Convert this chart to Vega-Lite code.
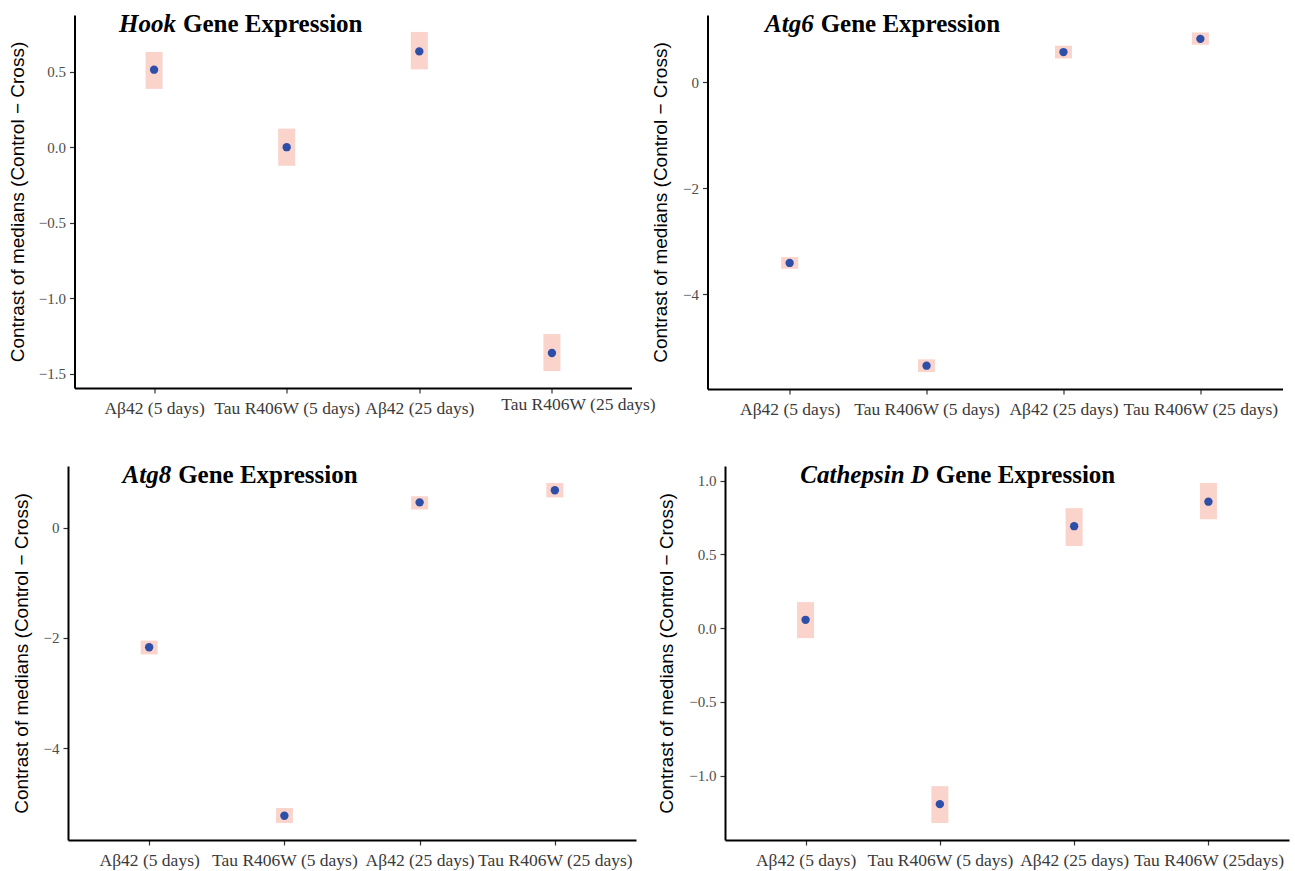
{
  "$schema": "https://vega.github.io/schema/vega-lite/v6.json",
  "padding": {"left": 8, "top": 11, "right": 5, "bottom": 5},
  "background": "white",
  "config": {
    "view": {"stroke": null},
    "axis": {
      "grid": false,
      "domainColor": "#000000",
      "domainWidth": 2,
      "tickColor": "#333333",
      "tickSize": 5,
      "tickWidth": 1.2,
      "labelFont": "Liberation Serif",
      "labelColor": "#4d4d4d",
      "titleFont": "Liberation Sans",
      "titleFontSize": 19,
      "titleFontWeight": "normal",
      "titleColor": "#000000"
    },
    "axisY": {"labelFontSize": 15, "labelPadding": 4},
    "axisX": {"labelFontSize": 17.5, "labelPadding": 6, "labelAngle": 0, "labelOverlap": false, "labelColor": "#3a3a3a"}
  },
  "datasets": {
    "d": [
      {"gene": "Hook", "group": "Aβ42 (5 days)", "median": 0.513, "lo": 0.386, "hi": 0.630},
      {"gene": "Hook", "group": "Tau R406W (5 days)", "median": 0.0, "lo": -0.123, "hi": 0.123},
      {"gene": "Hook", "group": "Aβ42 (25 days)", "median": 0.634, "lo": 0.515, "hi": 0.763},
      {"gene": "Hook", "group": "Tau R406W (25 days)", "median": -1.362, "lo": -1.482, "hi": -1.237},
      {"gene": "Atg6", "group": "Aβ42 (5 days)", "median": -3.41, "lo": -3.52, "hi": -3.30},
      {"gene": "Atg6", "group": "Tau R406W (5 days)", "median": -5.35, "lo": -5.47, "hi": -5.23},
      {"gene": "Atg6", "group": "Aβ42 (25 days)", "median": 0.57, "lo": 0.45, "hi": 0.69},
      {"gene": "Atg6", "group": "Tau R406W (25 days)", "median": 0.82, "lo": 0.71, "hi": 0.94},
      {"gene": "Atg8", "group": "Aβ42 (5 days)", "median": -2.17, "lo": -2.30, "hi": -2.05},
      {"gene": "Atg8", "group": "Tau R406W (5 days)", "median": -5.23, "lo": -5.36, "hi": -5.09},
      {"gene": "Atg8", "group": "Aβ42 (25 days)", "median": 0.46, "lo": 0.33, "hi": 0.57},
      {"gene": "Atg8", "group": "Tau R406W (25 days)", "median": 0.68, "lo": 0.55, "hi": 0.81},
      {"gene": "Cathepsin D", "group": "Aβ42 (5 days)", "median": 0.056, "lo": -0.068, "hi": 0.176},
      {"gene": "Cathepsin D", "group": "Tau R406W (5 days)", "median": -1.194, "lo": -1.322, "hi": -1.072},
      {"gene": "Cathepsin D", "group": "Aβ42 (25 days)", "median": 0.691, "lo": 0.556, "hi": 0.813},
      {"gene": "Cathepsin D", "group": "Tau R406W (25days)", "median": 0.857, "lo": 0.738, "hi": 0.984}
    ]
  },
  "columns": 1,
  "align": "each",
  "center": true,
  "spacing": 44,
  "concat": [
    {
      "spacing": -4,
      "hconcat": [
        {
          "width": 557, "height": 373,
          "data": {"name": "d"},
          "transform": [{"filter": "datum.gene === 'Hook'"}],
          "encoding": {
            "x": {"field": "group", "type": "nominal", "title": null,
                  "scale": {"type": "point", "padding": 0.6, "domain": ["Aβ42 (5 days)", "Tau R406W (5 days)", "Aβ42 (25 days)", "Tau R406W (25 days)"]},
                  "axis": {
                    "labelOffset": {"condition": {"test": "datum.value === 'Tau R406W (25 days)'", "value": 26}, "value": 0},
                    "labelPadding": {"condition": {"test": "datum.value === 'Tau R406W (25 days)'", "value": 2}, "value": 6}
                  }}
          },
          "layer": [
            {"mark": {"type": "bar", "size": 17, "color": "#FAD3CB"},
             "encoding": {
               "y": {"field": "lo", "type": "quantitative", "title": "Contrast of medians (Control − Cross)",
                     "scale": {"domain": [-1.594, 0.875], "nice": false, "zero": false},
                     "axis": {"values": [0.5, 0, -0.5, -1, -1.5], "format": ".1f", "titlePadding": 11}},
               "y2": {"field": "hi"}}},
            {"mark": {"type": "circle", "size": 70, "color": "#2E4FA8", "opacity": 1},
             "encoding": {"y": {"field": "median", "type": "quantitative", "title": "Contrast of medians (Control − Cross)"}}},
            {"transform": [{"filter": "datum.group === 'Aβ42 (5 days)'"}],
             "mark": {"type": "text", "align": "right", "baseline": "middle", "font": "Liberation Serif", "fontSize": 25, "fontWeight": "bold", "fontStyle": "italic", "dx": 22, "color": "#000000"},
             "encoding": {"x": {"datum": "Aβ42 (5 days)"}, "y": {"datum": 0.816}, "text": {"field": "gene"}}},
            {"transform": [{"filter": "datum.group === 'Aβ42 (5 days)'"}],
             "mark": {"type": "text", "align": "left", "baseline": "middle", "font": "Liberation Serif", "fontSize": 25, "fontWeight": "bold", "dx": 29, "color": "#000000"},
             "encoding": {"x": {"datum": "Aβ42 (5 days)"}, "y": {"datum": 0.816}, "text": {"value": "Gene Expression"}}}
          ]
        },
        {
          "width": 575, "height": 374,
          "data": {"name": "d"},
          "transform": [{"filter": "datum.gene === 'Atg6'"}],
          "encoding": {
            "x": {"field": "group", "type": "nominal", "title": null,
                  "scale": {"type": "point", "padding": 0.6, "domain": ["Aβ42 (5 days)", "Tau R406W (5 days)", "Aβ42 (25 days)", "Tau R406W (25 days)"]}}
          },
          "layer": [
            {"mark": {"type": "bar", "size": 17, "color": "#FAD3CB"},
             "encoding": {
               "y": {"field": "lo", "type": "quantitative", "title": "Contrast of medians (Control − Cross)",
                     "scale": {"domain": [-5.79, 1.27], "nice": false, "zero": false},
                     "axis": {"values": [0, -2, -4], "format": "d", "titlePadding": 12}},
               "y2": {"field": "hi"}}},
            {"mark": {"type": "circle", "size": 70, "color": "#2E4FA8", "opacity": 1},
             "encoding": {"y": {"field": "median", "type": "quantitative", "title": "Contrast of medians (Control − Cross)"}}},
            {"transform": [{"filter": "datum.group === 'Aβ42 (5 days)'"}],
             "mark": {"type": "text", "align": "right", "baseline": "middle", "font": "Liberation Serif", "fontSize": 25, "fontWeight": "bold", "fontStyle": "italic", "dx": 24, "color": "#000000"},
             "encoding": {"x": {"datum": "Aβ42 (5 days)"}, "y": {"datum": 1.10}, "text": {"field": "gene"}}},
            {"transform": [{"filter": "datum.group === 'Aβ42 (5 days)'"}],
             "mark": {"type": "text", "align": "left", "baseline": "middle", "font": "Liberation Serif", "fontSize": 25, "fontWeight": "bold", "dx": 31, "color": "#000000"},
             "encoding": {"x": {"datum": "Aβ42 (5 days)"}, "y": {"datum": 1.10}, "text": {"value": "Gene Expression"}}}
          ]
        }
      ]
    },
    {
      "spacing": 21,
      "hconcat": [
        {
          "width": 568, "height": 374,
          "data": {"name": "d"},
          "transform": [{"filter": "datum.gene === 'Atg8'"}],
          "encoding": {
            "x": {"field": "group", "type": "nominal", "title": null,
                  "scale": {"type": "point", "padding": 0.6, "domain": ["Aβ42 (5 days)", "Tau R406W (5 days)", "Aβ42 (25 days)", "Tau R406W (25 days)"]}}
          },
          "layer": [
            {"mark": {"type": "bar", "size": 17, "color": "#FAD3CB"},
             "encoding": {
               "y": {"field": "lo", "type": "quantitative", "title": "Contrast of medians (Control − Cross)",
                     "scale": {"domain": [-5.67, 1.12], "nice": false, "zero": false},
                     "axis": {"values": [0, -2, -4], "format": "d", "titlePadding": 12}},
               "y2": {"field": "hi"}}},
            {"mark": {"type": "circle", "size": 70, "color": "#2E4FA8", "opacity": 1},
             "encoding": {"y": {"field": "median", "type": "quantitative", "title": "Contrast of medians (Control − Cross)"}}},
            {"transform": [{"filter": "datum.group === 'Aβ42 (5 days)'"}],
             "mark": {"type": "text", "align": "right", "baseline": "middle", "font": "Liberation Serif", "fontSize": 25, "fontWeight": "bold", "fontStyle": "italic", "dx": 22, "color": "#000000"},
             "encoding": {"x": {"datum": "Aβ42 (5 days)"}, "y": {"datum": 0.957}, "text": {"field": "gene"}}},
            {"transform": [{"filter": "datum.group === 'Aβ42 (5 days)'"}],
             "mark": {"type": "text", "align": "left", "baseline": "middle", "font": "Liberation Serif", "fontSize": 25, "fontWeight": "bold", "dx": 29, "color": "#000000"},
             "encoding": {"x": {"datum": "Aβ42 (5 days)"}, "y": {"datum": 0.957}, "text": {"value": "Gene Expression"}}}
          ]
        },
        {
          "width": 564, "height": 374,
          "data": {"name": "d"},
          "transform": [{"filter": "datum.gene === 'Cathepsin D'"}],
          "encoding": {
            "x": {"field": "group", "type": "nominal", "title": null,
                  "scale": {"type": "point", "padding": 0.6, "domain": ["Aβ42 (5 days)", "Tau R406W (5 days)", "Aβ42 (25 days)", "Tau R406W (25days)"]}}
          },
          "layer": [
            {"mark": {"type": "bar", "size": 17, "color": "#FAD3CB"},
             "encoding": {
               "y": {"field": "lo", "type": "quantitative", "title": "Contrast of medians (Control − Cross)",
                     "scale": {"domain": [-1.437, 1.099], "nice": false, "zero": false},
                     "axis": {"values": [1, 0.5, 0, -0.5, -1], "format": ".1f", "titlePadding": 12}},
               "y2": {"field": "hi"}}},
            {"mark": {"type": "circle", "size": 70, "color": "#2E4FA8", "opacity": 1},
             "encoding": {"y": {"field": "median", "type": "quantitative", "title": "Contrast of medians (Control − Cross)"}}},
            {"transform": [{"filter": "datum.group === 'Tau R406W (5 days)'"}],
             "mark": {"type": "text", "align": "right", "baseline": "middle", "font": "Liberation Serif", "fontSize": 25, "fontWeight": "bold", "fontStyle": "italic", "dx": -11, "color": "#000000"},
             "encoding": {"x": {"datum": "Tau R406W (5 days)"}, "y": {"datum": 1.038}, "text": {"field": "gene"}}},
            {"transform": [{"filter": "datum.group === 'Tau R406W (5 days)'"}],
             "mark": {"type": "text", "align": "left", "baseline": "middle", "font": "Liberation Serif", "fontSize": 25, "fontWeight": "bold", "dx": -4, "color": "#000000"},
             "encoding": {"x": {"datum": "Tau R406W (5 days)"}, "y": {"datum": 1.038}, "text": {"value": "Gene Expression"}}}
          ]
        }
      ]
    }
  ]
}
